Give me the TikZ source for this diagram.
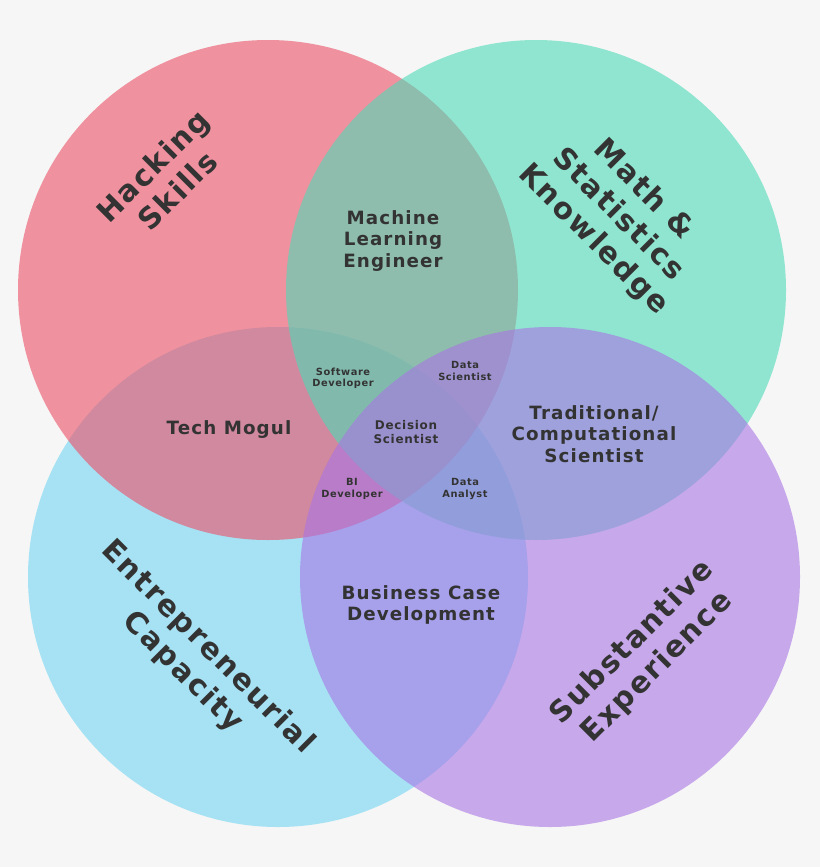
\documentclass[tikz,border=0pt]{standalone}
\usepackage{fontspec}
\setmainfont{DejaVu Sans}[LetterSpace=6]
\definecolor{fondgris}{RGB}{246,246,246}
\definecolor{rougeH}{RGB}{236,78,101}
\definecolor{vertM}{RGB}{77,219,183}
\definecolor{cyanE}{RGB}{113,214,244}
\definecolor{violetS}{RGB}{169,116,229}
\definecolor{texte}{RGB}{51,51,51}
\begin{document}
\begin{tikzpicture}[x=0.025cm,y=-0.025cm]
	\tikzstyle{cercle}=[fill opacity=0.6,draw=none]
	\tikzstyle{grand}=[text=texte,font=\bfseries\fontsize{21}{25}\selectfont,align=center]
	\tikzstyle{moyen}=[text=texte,font=\bfseries\fontsize{13}{15.5}\selectfont,align=center]
	\tikzstyle{petit}=[text=texte,font=\bfseries\fontsize{7}{8}\selectfont,align=center]
	\def\Rayon{250}
	\fill[fondgris] (0,0) rectangle (820,867);
	\useasboundingbox (0,0) rectangle (820,867);
	\fill[cercle,cyanE] (278,577) circle (\Rayon);
	\fill[cercle,rougeH] (268,290) circle (\Rayon);
	\fill[cercle,vertM] (536,290) circle (\Rayon);
	\fill[cercle,violetS] (550,577) circle (\Rayon);
	% grandes etiquettes
	\node[grand,rotate=45] (hack) at (165,178) {Hacking\\Skills};
	\node[grand,rotate=-45] (math) at (618,215) {Math \&\\Statistics\\Knowledge};
	\node[grand,rotate=-45] (entr) at (195,660) {Entrepreneurial\\Capacity};
	\node[grand,rotate=45] (subst) at (645,655) {Substantive\\Experience};
	% intersections
	\node[moyen] (mle) at (393,241) {Machine\\Learning\\Engineer};
	\node[moyen] (mogul) at (229,430) {Tech Mogul};
	\node[moyen] (trad) at (594,434) {Traditional/\\Computational\\Scientist};
	\node[moyen] (bcd) at (421,605) {Business Case\\Development};
	\node[petit] (soft) at (343,378) {Software\\Developer};
	\node[petit] (dsci) at (465,371) {Data\\Scientist};
	\node[petit,font=\bfseries\fontsize{8.5}{10}\selectfont] (dec) at (406,432) {Decision\\Scientist};
	\node[petit] (bi) at (352,489) {BI\\Developer};
	\node[petit] (dana) at (465,489) {Data\\Analyst};
\end{tikzpicture}
\end{document}
